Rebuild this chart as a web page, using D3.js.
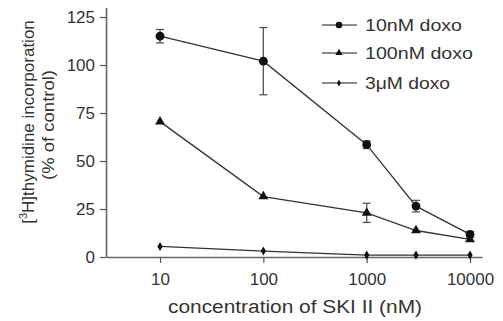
<!doctype html>
<html>
<head>
<meta charset="UTF-8">
<script src="https://cdn.jsdelivr.net/npm/d3@7"></script>
<style>
  body { margin: 0; background: #fff; }
  svg { font-family: "Liberation Sans", Arial, sans-serif; }
</style>
</head>
<body>
<svg id="chart" width="503" height="321"></svg>
<script>
// data
var conc = [10, 100, 1000, 3000, 10000];
var doxo10nM = [115, 102, 58.5, 26.5, 11.8];
var doxo10nMErr = [3.5, 17.5, 2, 3, 1.5];
var doxo100nM = [70.5, 31.5, 23, 13.8, 9.2];
var doxo100nMErr = [0, 0, 5, 0, 0];
var doxo3uM = [5.5, 3.1, 1, 1, 1];
var doxo3uMErr = [0, 0, 0, 0, 0];
var xTicks = [10, 100, 1000, 10000];
var yTicks = [0, 25, 50, 75, 100, 125];
var seriesNames = ["10nM doxo", "100nM doxo", "3\u03BCM doxo"];
var legendWidths = [97, 108, 85];

var ink = "#333";
var svg = d3.select("#chart");

var x = d3.scaleLog().domain([3, 13060]).range([106, 482]);
var y = d3.scaleLinear().domain([0, 130]).range([257, 7.4]);

// axes
var xAxis = svg.append("g").attr("transform", "translate(0,257)")
    .call(d3.axisBottom(x).tickValues(xTicks).tickFormat(d3.format("d")).tickSize(6).tickSizeOuter(0));
var yAxis = svg.append("g").attr("transform", "translate(106,0)")
    .call(d3.axisLeft(y).tickValues(yTicks).tickSize(6).tickSizeOuter(0));
[xAxis, yAxis].forEach(function(a){
    a.select(".domain").attr("stroke", "#666").attr("stroke-width", 1.6);
    a.selectAll(".tick line").attr("stroke", "#555").attr("stroke-width", 1.2);
    a.selectAll(".tick text").attr("fill", ink).style("font-size", "17px");
});
xAxis.selectAll(".tick text").attr("dy", "1.1em");
yAxis.selectAll(".tick text").attr("dx", "-2");

svg.append("text").attr("x", 295).attr("y", 313).attr("text-anchor", "middle")
    .attr("fill", ink).style("font-size", "18px")
    .attr("textLength", 254).attr("lengthAdjust", "spacingAndGlyphs")
    .text("concentration of SKI II (nM)");

var yl = svg.append("text").attr("transform", "translate(34,122) rotate(-90)")
    .attr("text-anchor", "middle").attr("fill", ink).style("font-size", "17px");
yl.append("tspan").text("[");
yl.append("tspan").attr("dy", -7).style("font-size", "11px").text("3");
yl.append("tspan").attr("dy", 7).text("H]thymidine incorporation");
svg.append("text").attr("transform", "translate(54,125) rotate(-90)")
    .attr("text-anchor", "middle").attr("fill", ink).style("font-size", "17px")
    .attr("textLength", 110).attr("lengthAdjust", "spacingAndGlyphs")
    .text("(% of control)");

var series = [
    {vals: doxo10nM, err: doxo10nMErr, sym: d3.symbolCircle, size: 62},
    {vals: doxo100nM, err: doxo100nMErr, sym: d3.symbolTriangle, size: 42},
    {vals: doxo3uM, err: doxo3uMErr, sym: d3.symbolDiamond, size: 24}
];

var line = d3.line().x(function(d){ return x(d[0]); }).y(function(d){ return y(d[1]); });

series.forEach(function(s){
    var pts = conc.map(function(c, i){ return [c, s.vals[i], s.err[i]]; });
    var g = svg.append("g");
    g.append("path").datum(pts).attr("d", line).attr("fill", "none")
        .attr("stroke", ink).attr("stroke-width", 1.3);
    var eb = g.selectAll(".eb").data(pts.filter(function(p){ return p[2] > 0; })).enter().append("g");
    eb.append("line").attr("x1", function(p){ return x(p[0]); }).attr("x2", function(p){ return x(p[0]); })
        .attr("y1", function(p){ return y(p[1] + p[2]); }).attr("y2", function(p){ return y(p[1] - p[2]); })
        .attr("stroke", "#555").attr("stroke-width", 1.3);
    [1, -1].forEach(function(sgn){
        eb.append("line").attr("x1", function(p){ return x(p[0]) - 4; }).attr("x2", function(p){ return x(p[0]) + 4; })
            .attr("y1", function(p){ return y(p[1] + sgn * p[2]); }).attr("y2", function(p){ return y(p[1] + sgn * p[2]); })
            .attr("stroke", "#555").attr("stroke-width", 1.3);
    });
    g.selectAll(".m").data(pts).enter().append("path")
        .attr("transform", function(p){ return "translate(" + x(p[0]) + "," + y(p[1]) + ")"; })
        .attr("d", d3.symbol().type(s.sym).size(s.size)).attr("fill", "#111");
});

// legend
var legY = [25, 53, 83];
series.forEach(function(s, i){
    var lg = svg.append("g").attr("transform", "translate(0," + legY[i] + ")");
    lg.append("line").attr("x1", 322).attr("x2", 357).attr("stroke", "#666").attr("stroke-width", 1.3);
    lg.append("path").attr("transform", "translate(339,0)")
        .attr("d", d3.symbol().type(s.sym).size(s.size * 0.55)).attr("fill", "#111");
    lg.append("text").attr("x", 365).attr("y", 6).attr("fill", ink)
        .style("font-size", "17px")
        .attr("textLength", legendWidths[i]).attr("lengthAdjust", "spacingAndGlyphs")
        .text(seriesNames[i]);
});
</script>
</body>
</html>
